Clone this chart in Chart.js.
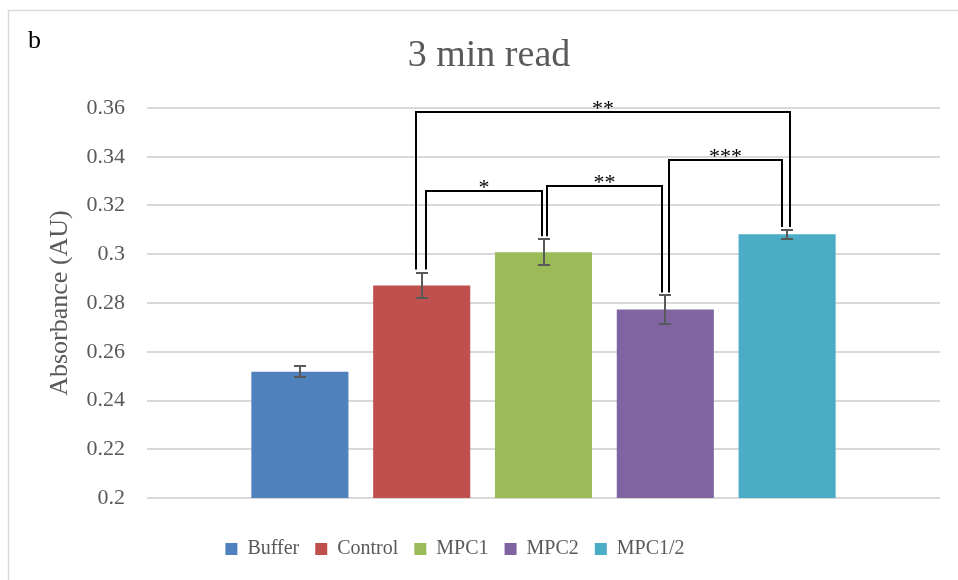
<!DOCTYPE html>
<html>
<head>
<meta charset="utf-8">
<script src="https://cdn.jsdelivr.net/npm/chart.js@4/dist/chart.umd.min.js"></script>
<style>
  html, body { margin: 0; padding: 0; background: #ffffff; }
  #wrap { width: 958px; height: 580px; position: relative; }
</style>
</head>
<body>
<div id="wrap"><canvas id="c" width="958" height="580"></canvas></div>
<script>
// ---- data ----
const categories = [''];
const seriesNames = ['Buffer', 'Control', 'MPC1', 'MPC2', 'MPC1/2'];
const meanValues = [0.2518, 0.2872, 0.3008, 0.2773, 0.3082];
const errorValues = [0.0022, 0.0053, 0.0054, 0.0058, 0.0018];
const yTickValues = [0.2, 0.22, 0.24, 0.26, 0.28, 0.3, 0.32, 0.34, 0.36];
const sigFrom = [1, 1, 2, 3];
const sigTo = [4, 2, 3, 4];
const sigLevels = [0.3584, 0.3259, 0.3279, 0.3386];
const sigLabels = ['**', '*', '**', '***'];
const titleText = '3 min read';
const panelLabel = 'b';
const yAxisTitle = 'Absorbance (AU)';

// ---- styles ----
const seriesColors = ['#4F81BD', '#C0504D', '#9BBB59', '#8064A2', '#4BACC6'];
const FONT = '"Liberation Serif", "Times New Roman", serif';
const GREY = '#595959';
const legOffsets = [[-6, 3], [4, -2], [3, -3], [4, -5]];

const datasets = seriesNames.map((name, i) => ({
  label: name,
  data: [meanValues[i]],
  backgroundColor: seriesColors[i],
  borderWidth: 0,
  categoryPercentage: 0.768,
  barPercentage: 0.797
}));

const decorPlugin = {
  id: 'decor',
  afterLayout(chart) {
    const lg = chart.legend;
    if (lg) {
      const dy = 523 - lg.top;
      lg.top += dy; lg.bottom += dy;
      lg.left -= 25; lg.right -= 25;
    }
    const tb = chart.titleBlock;
    if (tb) { tb.left += 9; tb.right += 9; }
  },
  beforeDraw(chart) {
    const ctx = chart.ctx;
    ctx.save();
    ctx.strokeStyle = '#d9d9d9';
    ctx.lineWidth = 1.5;
    ctx.beginPath();
    ctx.moveTo(8.5, 580);
    ctx.lineTo(8.5, 10.5);
    ctx.lineTo(958, 10.5);
    ctx.stroke();
    ctx.fillStyle = '#000';
    ctx.font = '26px ' + FONT;
    ctx.textBaseline = 'alphabetic';
    ctx.textAlign = 'left';
    ctx.fillText(panelLabel, 28, 48);
    ctx.restore();
  },
  afterDatasetsDraw(chart) {
    const ctx = chart.ctx;
    const ys = chart.scales.y;
    const barX = i => chart.getDatasetMeta(i).data[0].x;
    const errTopPx = i => ys.getPixelForValue(meanValues[i] + errorValues[i]);
    ctx.save();
    // error bars
    ctx.strokeStyle = GREY;
    ctx.lineWidth = 2;
    meanValues.forEach((v, i) => {
      const x = Math.round(barX(i));
      const t = Math.round(ys.getPixelForValue(v + errorValues[i]));
      const b = Math.round(ys.getPixelForValue(v - errorValues[i]));
      ctx.beginPath();
      ctx.moveTo(x, t); ctx.lineTo(x, b);
      ctx.moveTo(x - 6, t); ctx.lineTo(x + 6, t);
      ctx.moveTo(x - 6, b); ctx.lineTo(x + 6, b);
      ctx.stroke();
    });
    // significance brackets
    ctx.strokeStyle = '#000';
    ctx.lineWidth = 2;
    ctx.fillStyle = '#000';
    ctx.font = '22px ' + FONT;
    ctx.textAlign = 'center';
    ctx.textBaseline = 'alphabetic';
    sigLevels.forEach((lvl, k) => {
      const a = sigFrom[k], b = sigTo[k];
      const xa = Math.round(barX(a) + legOffsets[k][0]);
      const xb = Math.round(barX(b) + legOffsets[k][1]);
      const yl = Math.round(ys.getPixelForValue(lvl));
      const ya = errTopPx(a) - 3;
      const yb = errTopPx(b) - 3;
      ctx.beginPath();
      ctx.moveTo(xa, ya); ctx.lineTo(xa, yl); ctx.lineTo(xb, yl); ctx.lineTo(xb, yb);
      ctx.stroke();
      ctx.fillText(sigLabels[k], (xa + xb) / 2, yl + 3);
    });
    ctx.restore();
  }
};

new Chart(document.getElementById('c'), {
  type: 'bar',
  data: { labels: categories, datasets },
  plugins: [decorPlugin],
  options: {
    responsive: false,
    animation: false,
    events: [],
    layout: { padding: { left: 20, right: 18, top: 0, bottom: 36 } },
    plugins: {
      title: {
        display: true,
        text: titleText,
        color: GREY,
        font: { family: FONT, size: 38, weight: 'normal' },
        padding: { top: 33, bottom: 29.4 }
      },
      legend: {
        position: 'bottom',
        labels: {
          color: GREY,
          font: { family: FONT, size: 20 },
          boxWidth: 12,
          boxHeight: 12,
          padding: 16
        }
      },
      tooltip: { enabled: false }
    },
    scales: {
      x: { display: false },
      y: {
        min: 0.2,
        max: 0.36,
        afterBuildTicks(scale) { scale.ticks = yTickValues.map(v => ({ value: v })); },
        afterFit(scale) { scale.width = 127; },
        ticks: {
          color: GREY,
          font: { family: FONT, size: 22 },
          padding: 22,
          callback: v => String(parseFloat(Number(v).toFixed(2)))
        },
        grid: { color: '#d9d9d9', lineWidth: 2, drawTicks: false },
        border: { display: false },
        title: {
          display: true,
          text: yAxisTitle,
          color: GREY,
          font: { family: FONT, size: 26 },
          padding: { top: 25, bottom: 0 }
        }
      }
    }
  }
});
</script>
</body>
</html>
